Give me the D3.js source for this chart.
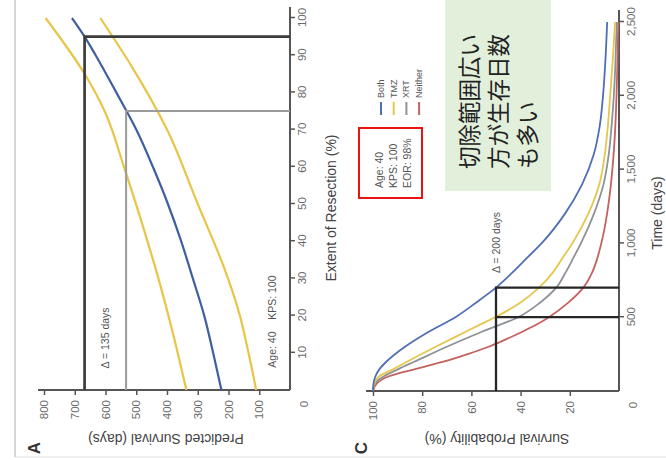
<!DOCTYPE html>
<html lang="en">
<head>
<meta charset="utf-8">
<title>Extent of resection and survival</title>
<script src="https://cdn.jsdelivr.net/npm/d3@7"></script>
<style>
  body { margin: 0; background: #fff; }
  svg text { font-family: "Liberation Sans", Arial, sans-serif; }
  .tick line { stroke: #555; stroke-width: 1.5; }
  .tick text { fill: #6a6a6a; font-size: 11.5px; }
  .ttl { fill: #444; font-size: 14px; }
  .note { fill: #555; font-size: 10.5px; }
</style>
</head>
<body>
<svg id="fig" width="666" height="460"></svg>
<script>
// panel A - predicted survival (days) against extent of resection (%)
var eorMid  = [0, 10, 20, 30, 40, 50, 60, 70, 80, 90, 95, 100];
var survMid = [223, 250, 279, 316, 354, 397, 446, 500, 565, 632, 668, 709];
var eorHi   = [0, 15, 30, 45, 60, 75, 85, 100];
var survHi  = [337, 380, 428, 482, 540, 603, 668, 795];
var eorLo   = [0, 10, 20, 33, 50, 70, 87, 100];
var survLo  = [110, 135, 163, 215, 300, 400, 515, 617];
var eorTicks  = [10, 20, 30, 40, 50, 60, 70, 80, 90, 100];
var survTicks = [100, 200, 300, 400, 500, 600, 700, 800];
var markA = [{eor: 95, surv: 668}, {eor: 75, surv: 533}];

// panel C - survival probability (%) against time (days), by adjuvant treatment
var groups  = ["Both", "TMZ", "XRT", "Neither"];
var daysBoth = [0, 50, 100, 150, 200, 300, 400, 500, 600, 700, 800, 900, 1000, 1200, 1400, 1600, 1800, 2000, 2250, 2500];
var probBoth = [100, 99.8, 99, 97.3, 94.5, 87, 77.5, 66.5, 58, 50, 43.5, 37.5, 31.5, 22, 15, 10.3, 7.8, 6.5, 5.5, 4.8];
var daysTmz  = [0, 50, 100, 150, 200, 300, 400, 450, 500, 600, 700, 800, 900, 1000, 1200, 1400, 1600, 1800, 2000, 2250, 2500];
var probTmz  = [100, 99.5, 97.5, 91.5, 86, 74.5, 62.5, 56.5, 50.3, 40, 32.5, 27, 23, 19, 12.5, 8, 5.8, 4.5, 3.6, 2.5, 1.6];
var daysXrt  = [0, 50, 100, 150, 200, 300, 400, 500, 600, 700, 800, 900, 1000, 1200, 1400, 1600, 1800, 2000, 2250, 2500];
var probXrt  = [100, 99.3, 95.5, 89.5, 83, 70, 56, 41, 32, 25.5, 21.8, 18.6, 15.5, 10.2, 6.3, 4.2, 3, 2.1, 1.4, 0.9];
var daysNone = [0, 50, 100, 150, 200, 250, 300, 350, 400, 450, 500, 600, 700, 800, 900, 1000, 1100, 1300, 1500, 1700, 2000, 2250, 2500];
var probNone = [100, 98.5, 93.5, 82.5, 71, 61.5, 53, 46, 39.5, 33.5, 28.5, 20.5, 14.5, 11, 8.8, 7.2, 5.9, 4, 2.7, 1.8, 1, 0.6, 0.3];
var timeTicks = [500, 1000, 1500, 2000, 2500];
var probTicks = [20, 40, 60, 80, 100];
var medians = [700, 500];
var colorsC = ["#4f6fb6", "#e6c64c", "#8d9299", "#c4625e"];

var svg = d3.select("#fig");

// frame of the scanned page
svg.append("line").attr("x1", 15).attr("x2", 15).attr("y1", 0).attr("y2", 457)
    .attr("stroke", "#c8c8c8").attr("stroke-width", 1.5);
svg.append("line").attr("x1", 15).attr("x2", 666).attr("y1", 457).attr("y2", 457)
    .attr("stroke", "#dedede").attr("stroke-width", 1);

// the figure is printed turned a quarter turn to the left
var g = svg.append("g").attr("transform", "translate(0,460) rotate(-90)");

function cleanAxis(sel) {
    sel.select(".domain").remove();
}

// ---------- panel A ----------
var xA = d3.scaleLinear().domain([0, 100]).range([70, 442]);
var yA = d3.scaleLinear().domain([0, 800]).range([290, 44]);

g.append("g").attr("transform", "translate(0,290)")
    .call(d3.axisBottom(xA).tickValues(eorTicks).tickSize(5).tickPadding(3))
    .call(cleanAxis);
g.append("g").attr("transform", "translate(70,0)")
    .call(d3.axisLeft(yA).tickValues(survTicks).tickSize(5).tickPadding(5))
    .call(cleanAxis);
g.append("line").attr("x1", 70).attr("x2", 453).attr("y1", 290).attr("y2", 290)
    .attr("stroke", "#555").attr("stroke-width", 2);
g.append("line").attr("x1", 70).attr("x2", 70).attr("y1", 38).attr("y2", 290)
    .attr("stroke", "#555").attr("stroke-width", 2);
g.append("text").attr("x", 56).attr("y", 304)
    .attr("text-anchor", "middle").attr("dominant-baseline", "central")
    .style("fill", "#6a6a6a").style("font-size", "11.5px").text("0");

var lineA = d3.line().x(d => xA(d[0])).y(d => yA(d[1])).curve(d3.curveMonotoneX);
[[eorHi, survHi, "#e8c547"], [eorLo, survLo, "#e8c547"], [eorMid, survMid, "#3f5f9e"]]
    .forEach(function(s) {
        g.append("path")
            .datum(d3.zip(s[0], s[1]))
            .attr("d", lineA)
            .attr("fill", "none")
            .attr("stroke", s[2])
            .attr("stroke-width", 2.2);
    });

markA.forEach(function(m, i) {
    var c = i == 0 ? "#3c3c3c" : "#9a9a9a";
    var w = i == 0 ? 2.7 : 2;
    g.append("path")
        .attr("d", "M" + xA(0) + "," + yA(m.surv) + "H" + xA(m.eor) + "V" + yA(0))
        .attr("fill", "none").attr("stroke", c).attr("stroke-width", w);
});

g.append("text").attr("class", "note")
    .attr("x", xA(14)).attr("y", yA((markA[0].surv + markA[1].surv) / 2))
    .attr("text-anchor", "middle").attr("dominant-baseline", "central")
    .text("\u0394 = " + (markA[0].surv - markA[1].surv) + " days");
g.append("text").attr("class", "note")
    .attr("x", xA(6)).attr("y", yA(60))
    .attr("dominant-baseline", "central")
    .attr("xml:space", "preserve")
    .text("Age: 40    KPS: 100");

g.append("text").attr("class", "ttl")
    .attr("x", 252).attr("y", 331)
    .attr("text-anchor", "middle").attr("dominant-baseline", "central")
    .text("Extent of Resection (%)");
g.append("text").attr("class", "ttl")
    .attr("transform", "translate(21,166) rotate(-90)")
    .attr("text-anchor", "middle").attr("dominant-baseline", "central")
    .text("Predicted Survival (days)");
g.append("text").attr("x", 12).attr("y", 34)
    .attr("text-anchor", "middle").attr("dominant-baseline", "central")
    .style("font-size", "17px").style("font-weight", "bold").style("fill", "#333")
    .text("A");

// ---------- panel C ----------
var xC = d3.scaleLinear().domain([0, 2500]).range([69, 438]);
var yC = d3.scaleLinear().domain([0, 100]).range([619, 373]);

g.append("g").attr("transform", "translate(0,619)")
    .call(d3.axisBottom(xC).tickValues(timeTicks).tickSize(5).tickPadding(3).tickFormat(d3.format(",")))
    .call(cleanAxis);
g.append("g").attr("transform", "translate(69,0)")
    .call(d3.axisLeft(yC).tickValues(probTicks).tickSize(5).tickPadding(5))
    .call(cleanAxis);
g.append("line").attr("x1", 69).attr("x2", 450).attr("y1", 619).attr("y2", 619)
    .attr("stroke", "#555").attr("stroke-width", 2);
g.append("line").attr("x1", 69).attr("x2", 69).attr("y1", 366).attr("y2", 619)
    .attr("stroke", "#555").attr("stroke-width", 2);
g.append("text").attr("x", 55).attr("y", 633)
    .attr("text-anchor", "middle").attr("dominant-baseline", "central")
    .style("fill", "#6a6a6a").style("font-size", "11.5px").text("0");

var seriesC = [[daysBoth, probBoth], [daysTmz, probTmz], [daysXrt, probXrt], [daysNone, probNone]];
var lineC = d3.line().x(d => xC(d[0])).y(d => yC(d[1])).curve(d3.curveMonotoneX);
seriesC.slice().reverse().forEach(function(s, k) {
    var i = seriesC.length - 1 - k;
    g.append("path")
        .datum(d3.zip(s[0], s[1]))
        .attr("d", lineC)
        .attr("fill", "none")
        .attr("stroke", colorsC[i])
        .attr("stroke-width", 1.8);
});

// medians at 50 %
g.append("path")
    .attr("d", "M" + xC(0) + "," + yC(50) + "H" + xC(medians[0]) + "V" + yC(0) +
               "M" + xC(medians[1]) + "," + yC(50) + "V" + yC(0))
    .attr("fill", "none").attr("stroke", "#262626").attr("stroke-width", 2.3);
g.append("text").attr("class", "note")
    .attr("x", xC(800)).attr("y", yC(50))
    .attr("dominant-baseline", "central")
    .text("\u0394 = " + (medians[0] - medians[1]) + " days");

// legend
var leg = g.append("g");
groups.forEach(function(name, i) {
    var yy = 381 + i * 12.7;
    leg.append("line").attr("x1", 345).attr("x2", 358).attr("y1", yy).attr("y2", yy)
        .attr("stroke", colorsC[i]).attr("stroke-width", 2);
    leg.append("text").attr("x", 362).attr("y", yy)
        .attr("dominant-baseline", "central")
        .style("font-size", "9px").style("fill", "#555")
        .text(name);
});

// patient box
g.append("rect").attr("x", 262).attr("y", 359).attr("width", 70).attr("height", 63)
    .attr("fill", "none").attr("stroke", "#ee1111").attr("stroke-width", 2);
["Age: 40", "KPS: 100", "EOR: 98%"].forEach(function(t, i) {
    g.append("text").attr("class", "note")
        .attr("x", 272).attr("y", 379 + i * 14)
        .attr("dominant-baseline", "central")
        .text(t);
});

g.append("text").attr("class", "ttl")
    .attr("x", 247).attr("y", 657)
    .attr("text-anchor", "middle").attr("dominant-baseline", "central")
    .text("Time (days)");
g.append("text").attr("class", "ttl")
    .attr("transform", "translate(21,497) rotate(-90)")
    .attr("text-anchor", "middle").attr("dominant-baseline", "central")
    .text("Survival Probability (%)");
g.append("text").attr("x", 12).attr("y", 361)
    .attr("text-anchor", "middle").attr("dominant-baseline", "central")
    .style("font-size", "17px").style("font-weight", "bold").style("fill", "#333")
    .text("C");

// comment box
g.append("rect").attr("x", 269).attr("y", 445).attr("width", 195).attr("height", 106)
    .attr("fill", "#e2efda");
var jp = ["切除範囲広い", "方が生存日数", "も多い"];
jp.forEach(function(t, i) {
    g.append("text")
        .attr("x", 291).attr("y", 468 + i * 29)
        .attr("dominant-baseline", "central")
        .style("font-family", "'Noto Sans CJK JP', sans-serif")
        .style("font-size", "22.5px").style("fill", "#222")
        .text(t);
});
</script>
</body>
</html>
